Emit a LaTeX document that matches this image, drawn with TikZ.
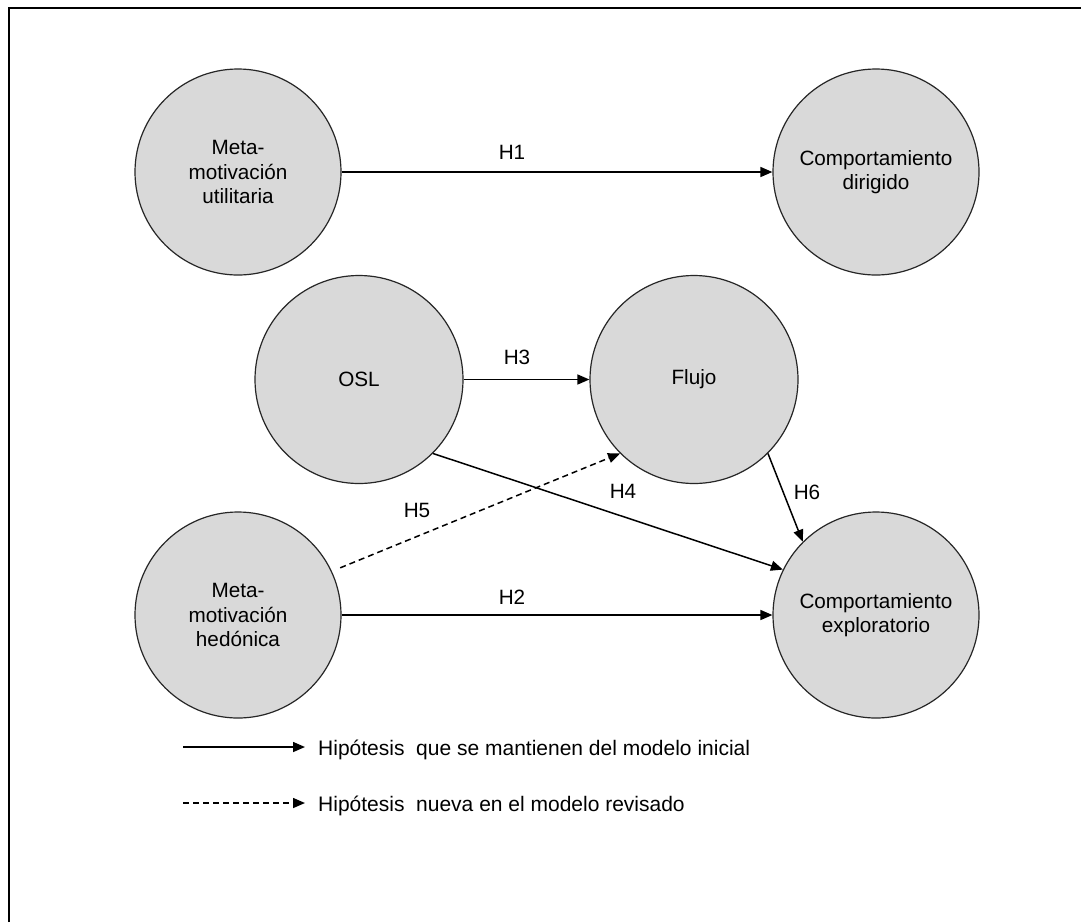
\documentclass[tikz,border=0pt]{standalone}
\usepackage{fontspec}
\setmainfont{Liberation Sans}
\usetikzlibrary{arrows.meta}
\definecolor{nodefill}{RGB}{217,217,217}
\begin{document}
\begin{tikzpicture}[x=1pt,y=-1pt,
  construct/.style={circle, draw=black!85, line width=1.2pt, fill=nodefill,
    minimum size=206pt, inner sep=0pt, align=center,
    font=\fontsize{20.7}{24.5}\selectfont},
  link/.style={line width=1.5pt, -{Triangle[length=12pt,width=10pt]}},
  newlink/.style={link, dash pattern=on 6pt off 4pt},
  hyp/.style={inner sep=0pt, font=\fontsize{20.7}{24.5}\selectfont},
  legendtext/.style={inner sep=0pt, anchor=base west, font=\fontsize{21}{25}\selectfont}]
\useasboundingbox (0,0) rectangle (1081,922);
\fill[white] (0,0) rectangle (1081,922);

% frame
\draw[line width=2pt] (9,922) -- (9,8) -- (1081,8);

% constructs
\node[construct] (mu) at (238,172) {Meta-\\motivación\\utilitaria};
\node[construct] (cd) at (876,172) {Comportamiento\\dirigido};
\node[construct, minimum size=208pt] (osl) at (359,379.5) {OSL};
\node[construct, minimum size=208pt] (fl) at (694,379.5) {Flujo};
\node[construct] (mh) at (238,615) {Meta-\\motivación\\hedónica};
\node[construct] (ce) at (876,615) {Comportamiento\\exploratorio};

% hypotheses
\draw[link] (mu) -- (cd);
\draw[link] (osl) -- (fl);
\draw[link] (mh) -- (ce);
\draw[link] (osl.-45) -- (ce.154);
\draw[newlink, shorten <=9pt] (mh.25) -- (fl.-135);
\draw[link] (fl.-45) -- (ce.135);

\node[hyp] (h1) at (512,152) {H1};
\node[hyp] (h3) at (517,357) {H3};
\node[hyp] (h4) at (623,491) {H4};
\node[hyp] (h5) at (417,510) {H5};
\node[hyp] (h6) at (807,492) {H6};
\node[hyp] (h2) at (512,597) {H2};

% legend
\coordinate (la) at (183,747);
\coordinate (lb) at (305,747);
\coordinate (lc) at (183,803);
\coordinate (ld) at (305,803);
\draw[link] (la) -- (lb);
\draw[newlink] (lc) -- (ld);
\node[legendtext] (t1) at (318,755) {Hipótesis\ \ que se mantienen del modelo inicial};
\node[legendtext] (t2) at (318,811) {Hipótesis\ \ nueva en el modelo revisado};
\end{tikzpicture}
\end{document}
